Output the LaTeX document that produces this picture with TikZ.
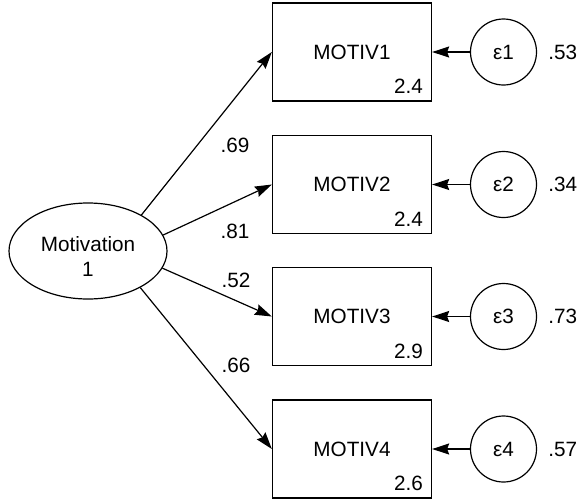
\documentclass[tikz,border=0pt]{standalone}
\usepackage{fontspec}
\setmainfont{Liberation Sans}
\usetikzlibrary{arrows.meta,calc,shapes.geometric}
\begin{document}
\begin{tikzpicture}[x=1pt,y=-1pt,
  every node/.style={font=\fontsize{20.7}{25}\selectfont},
  obsbox/.style={draw,line width=1.3pt,minimum width=159pt,minimum height=98pt,inner sep=0pt},
  errcirc/.style={draw,circle,line width=1.2pt,minimum size=66pt,inner sep=0pt},
  latent/.style={draw,ellipse,line width=1.2pt,minimum width=158pt,minimum height=96pt,inner sep=0pt},
  arr/.style={line width=1.2pt,-{Stealth[length=17pt,width=11pt,inset=2pt]}},
  lbl/.style={inner sep=0pt}
]
\useasboundingbox (0,0) rectangle (581,499);
\node[latent] (m) at (88,251) {};
\node[lbl,align=center] (mt) at (88,256) {Motivation\\1};
\foreach \i/\y/\m/\r in {1/52/2.4/.53, 2/184.5/2.4/.34, 3/316.5/2.9/.73, 4/449/2.6/.57}{
  \node[obsbox] (b\i) at (352,\y) {MOTIV\i};
  \node[lbl,anchor=base east] (bm\i) at ($(b\i.south east)+(-9,-8)$) {\m};
  \node[errcirc] (e\i) at (503.5,\y) {ε\i};
  \node[lbl,anchor=west] (r\i) at ($(e\i.east)+(11,0)$) {\r};
  \draw[arr] (e\i.west) -- (b\i.east);
}
\draw[arr] (m.34) -- (b1.west);
\draw[arr] (m.12) -- (b2.west);
\draw[arr] (m.-13) -- (b3.west);
\draw[arr] (m.-35) -- (b4.west);
\node[lbl] (l1) at (235,145) {.69};
\node[lbl] (l2) at (235,231) {.81};
\node[lbl] (l3) at (236,280) {.52};
\node[lbl] (l4) at (236,365) {.66};
\end{tikzpicture}
\end{document}
